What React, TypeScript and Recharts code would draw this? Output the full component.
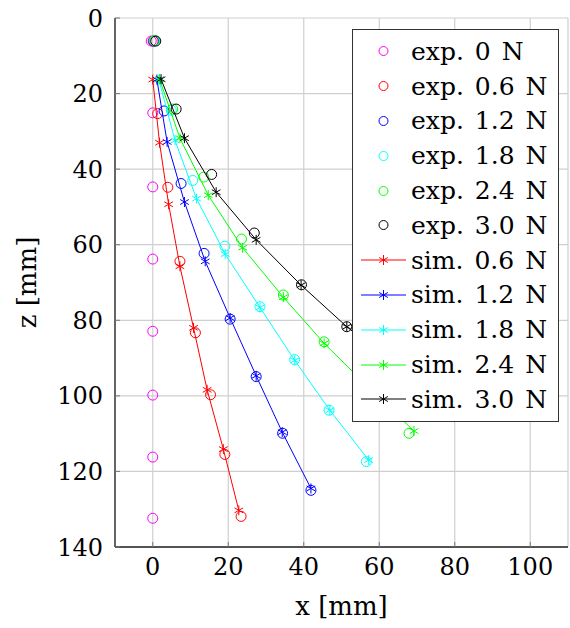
import { ScatterChart, Scatter, XAxis, YAxis, CartesianGrid, Legend } from "recharts";

// experimental tip positions (circles)
const exp00X = [-0.4, 0, 0, 0, 0, 0, 0, 0];
const exp00Z = [6.1, 25.1, 44.7, 63.8, 82.9, 99.8, 116.2, 132.4];
const exp06X = [0.1, 1.3, 4.0, 7.2, 11.3, 15.3, 19.1, 23.4];
const exp06Z = [6.1, 25.3, 44.8, 64.4, 83.3, 99.7, 115.5, 131.9];
const exp12X = [0.3, 3.0, 7.5, 13.6, 20.5, 27.4, 34.4, 41.9];
const exp12Z = [6.1, 24.6, 43.8, 62.3, 79.7, 94.9, 109.9, 125.0];
const exp18X = [0.4, 4.9, 10.6, 19.1, 28.4, 37.6, 46.7, 56.6];
const exp18Z = [6.0, 24.4, 43.0, 60.4, 76.4, 90.4, 103.8, 117.4];
const exp24X = [0.6, 5.3, 13.5, 23.5, 34.6, 45.4, 57.0, 67.9];
const exp24Z = [6.0, 24.1, 42.1, 58.5, 73.3, 85.7, 97.5, 109.9];
const exp30X = [0.8, 6.2, 15.6, 26.9, 39.4, 51.4, 63.9];
const exp30Z = [6.1, 24.1, 41.4, 56.9, 70.6, 81.7, 91.7];

// simulated tip positions (lines with star marks)
const sim06X = [0, 1.8, 4.2, 7.2, 10.8, 14.4, 18.7, 22.8];
const sim06Z = [16.3, 33.0, 49.3, 65.7, 82.0, 98.4, 114.1, 130.3];
const sim12X = [1.1, 3.8, 8.4, 13.9, 20.5, 27.4, 34.3, 41.9];
const sim12Z = [16.3, 32.8, 48.7, 64.4, 79.4, 94.7, 109.6, 124.5];
const sim18X = [1.6, 5.9, 11.6, 19.2, 28.4, 37.6, 46.9, 57.2];
const sim18Z = [16.3, 32.4, 47.8, 62.5, 76.6, 90.6, 103.8, 117.0];
const sim24X = [1.8, 7.2, 14.7, 23.8, 34.6, 45.4, 57.0, 69.2];
const sim24Z = [16.2, 31.8, 46.9, 60.8, 73.9, 86.1, 97.6, 109.3];
const sim30X = [2.2, 8.4, 16.8, 27.4, 39.3, 51.4, 63.9];
const sim30Z = [16.2, 31.8, 46.1, 58.7, 70.7, 81.7, 91.7];

const xTicks = [0, 20, 40, 60, 80, 100];
const zTicks = [0, 20, 40, 60, 80, 100, 120, 140];

const toPoints = (xs: number[], zs: number[]) => xs.map((x, i) => ({ x, z: zs[i] }));

const expSeries = [
  { name: "exp. 0 N", color: "#ff00ff", data: toPoints(exp00X, exp00Z) },
  { name: "exp. 0.6 N", color: "#ff0000", data: toPoints(exp06X, exp06Z) },
  { name: "exp. 1.2 N", color: "#0000ff", data: toPoints(exp12X, exp12Z) },
  { name: "exp. 1.8 N", color: "#00ffff", data: toPoints(exp18X, exp18Z) },
  { name: "exp. 2.4 N", color: "#00ff00", data: toPoints(exp24X, exp24Z) },
  { name: "exp. 3.0 N", color: "#000000", data: toPoints(exp30X, exp30Z) },
];

const simSeries = [
  { name: "sim. 0.6 N", color: "#ff0000", data: toPoints(sim06X, sim06Z) },
  { name: "sim. 1.2 N", color: "#0000ff", data: toPoints(sim12X, sim12Z) },
  { name: "sim. 1.8 N", color: "#00ffff", data: toPoints(sim18X, sim18Z) },
  { name: "sim. 2.4 N", color: "#00ff00", data: toPoints(sim24X, sim24Z) },
  { name: "sim. 3.0 N", color: "#000000", data: toPoints(sim30X, sim30Z) },
];

const FONT = '"DejaVu Serif", "Liberation Serif", "Noto Serif", serif';

const circleShape = (color: string) => (props: any) => (
  <circle cx={props.cx} cy={props.cy} r={5} fill="none" stroke={color} strokeWidth={1} />
);

const Star = ({ cx, cy, color, r = 5 }: any) => (
  <g stroke={color} strokeWidth={1}>
    {[90, 30, 150].map((a) => {
      const dx = r * Math.cos((a * Math.PI) / 180);
      const dy = r * Math.sin((a * Math.PI) / 180);
      return <line key={a} x1={cx - dx} y1={cy - dy} x2={cx + dx} y2={cy + dy} />;
    })}
  </g>
);

const starShape = (color: string) => (props: any) => <Star cx={props.cx} cy={props.cy} color={color} />;

const renderLegend = () => {
  const rows = [
    ...expSeries.map((s) => ({ ...s, sim: false })),
    ...simSeries.map((s) => ({ ...s, sim: true })),
  ];
  return (
    <div
      style={{
        boxSizing: "border-box",
        width: 207,
        height: 393,
        border: "1.3px solid #333",
        background: "#fff",
        paddingTop: 4,
        fontFamily: FONT,
        fontSize: 25,
        wordSpacing: 3,
        color: "#000",
      }}
    >
      {rows.map((r) => (
        <div key={r.name} style={{ display: "flex", alignItems: "center", height: 34.8 }}>
          <svg width={58} height={20} style={{ flex: "none" }}>
            {r.sim ? (
              <>
                <line x1={8} y1={10} x2={53} y2={10} stroke={r.color} strokeWidth={1} />
                <Star cx={30.5} cy={10} color={r.color} />
              </>
            ) : (
              <circle cx={30.5} cy={10} r={4.5} fill="none" stroke={r.color} strokeWidth={1} />
            )}
          </svg>
          <span style={{ whiteSpace: "nowrap", lineHeight: 1 }}>{r.name}</span>
        </div>
      ))}
    </div>
  );
};

const tickStyle = { fontFamily: FONT, fontSize: 24, fill: "#000" };
const labelStyle = { fontFamily: FONT, fontSize: 26, fill: "#000" };

export default function App() {
  return (
    <div style={{ position: "absolute", left: 0, top: 0 }}>
      <ScatterChart width={570} height={628} margin={{ top: 18, right: 2, bottom: 0, left: 0 }}>
        <CartesianGrid stroke="#cfcfcf" strokeWidth={1.2} />
        <XAxis
          type="number"
          dataKey="x"
          domain={[-10, 110]}
          ticks={xTicks}
          allowDataOverflow
          height={81}
          tick={tickStyle}
          tickSize={-5}
          tickMargin={16}
          tickLine={{ stroke: "#777" }}
          axisLine={{ stroke: "#222", strokeWidth: 1.3 }}
          label={(p: any) => {
            const vb = p.viewBox || { x: 115, width: 453 };
            return (
              <text x={vb.x + vb.width / 2} y={615} textAnchor="middle" style={labelStyle}>
                x [mm]
              </text>
            );
          }}
        />
        <YAxis
          type="number"
          dataKey="z"
          domain={[0, 140]}
          ticks={zTicks}
          reversed
          allowDataOverflow
          width={115}
          tick={tickStyle}
          tickSize={-5}
          tickMargin={17}
          tickLine={{ stroke: "#777" }}
          axisLine={{ stroke: "#222", strokeWidth: 1.3 }}
          label={(p: any) => {
            const vb = p.viewBox || { y: 18, height: 528 };
            const cy = vb.y + vb.height / 2;
            return (
              <text
                x={27}
                y={cy}
                transform={`rotate(-90 27 ${cy})`}
                textAnchor="middle"
                dominantBaseline="central"
                style={labelStyle}
              >
                z [mm]
              </text>
            );
          }}
        />
        <XAxis
          xAxisId="top"
          orientation="top"
          type="number"
          domain={[-10, 110]}
          ticks={xTicks}
          allowDataOverflow
          height={0}
          tick={false}
          tickSize={-5}
          tickLine={{ stroke: "#777" }}
          axisLine={{ stroke: "#222", strokeWidth: 1.3 }}
        />
        <YAxis
          yAxisId="right"
          orientation="right"
          type="number"
          domain={[0, 140]}
          ticks={zTicks}
          reversed
          allowDataOverflow
          width={0}
          tick={false}
          tickSize={-5}
          tickLine={{ stroke: "#777" }}
          axisLine={{ stroke: "#222", strokeWidth: 1.3 }}
        />
        {expSeries.map((s) => (
          <Scatter
            key={s.name}
            name={s.name}
            data={s.data}
            fill={s.color}
            shape={circleShape(s.color)}
            isAnimationActive={false}
          />
        ))}
        {simSeries.map((s) => (
          <Scatter
            key={s.name}
            name={s.name}
            data={s.data}
            fill={s.color}
            line={{ stroke: s.color, strokeWidth: 1 }}
            lineType="joint"
            shape={starShape(s.color)}
            isAnimationActive={false}
          />
        ))}
        <Legend
          layout="vertical"
          align="center"
          verticalAlign="middle"
          content={renderLegend}
          wrapperStyle={{ left: 352, top: 29, width: 207, height: 393 }}
        />
      </ScatterChart>
    </div>
  );
}
